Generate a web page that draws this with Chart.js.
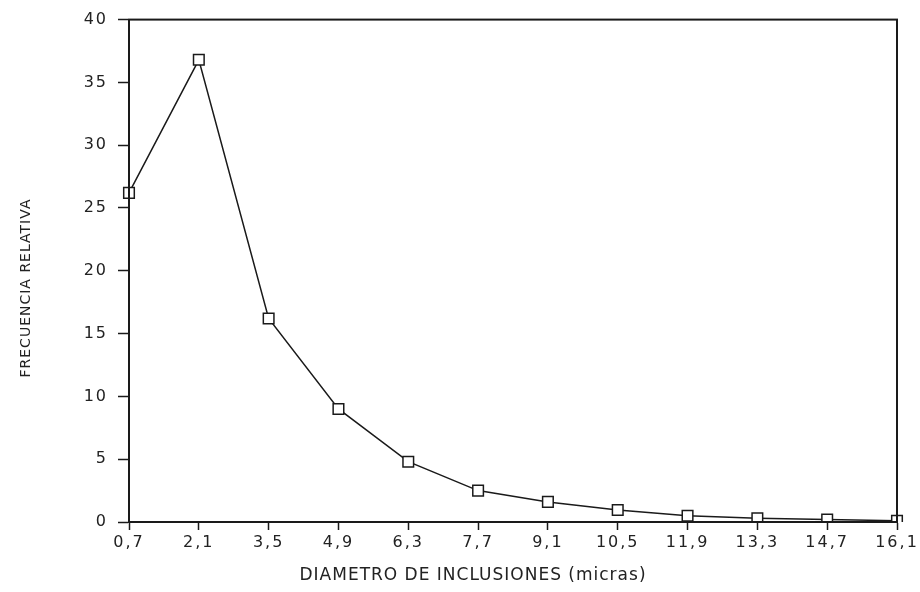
<!DOCTYPE html>
<html>
<head>
<meta charset="utf-8">
<script src="https://cdn.jsdelivr.net/npm/chart.js@4/dist/chart.umd.min.js"></script>
<style>
  html, body { margin: 0; padding: 0; background: #fff; }
  #wrap { width: 920px; height: 592px; position: relative; }
</style>
</head>
<body>
<div id="wrap"><canvas id="grafico"></canvas></div>
<script>
// datos
const diametros = ['0.7', '2.1', '3.5', '4.9', '6.3', '7.7', '9.1', '10.5', '11.9', '13.3', '14.7', '16.1'];
const frecuencias = [26.2, 36.8, 16.2, 9.0, 4.8, 2.5, 1.6, 0.95, 0.5, 0.3, 0.2, 0.1];
const ticksY = [0, 5, 10, 15, 20, 25, 30, 35, 40];

const tituloX = 'DIAMETRO DE INCLUSIONES (micras)';
const tituloY = 'FRECUENCIA RELATIVA';

const tinta = '#1a1a1a';

// marco completo + titulos de ejes
const marcoPlugin = {
  id: 'marco',
  beforeDraw(chart) {
    chart.ctx.letterSpacing = '2px';
  },
  afterDraw(chart) {
    const { ctx, chartArea: a } = chart;
    ctx.save();
    ctx.strokeStyle = tinta;
    ctx.lineWidth = 2;
    ctx.strokeRect(a.left, a.top, a.right - a.left, a.bottom - a.top);

    ctx.fillStyle = '#222';
    ctx.letterSpacing = '1px';
    ctx.textAlign = 'center';
    ctx.textBaseline = 'middle';
    ctx.font = '17px "DejaVu Sans"';
    ctx.fillText(tituloX, 473, 576);

    ctx.translate(26, 288);
    ctx.rotate(-Math.PI / 2);
    ctx.font = '14px "DejaVu Sans"';
    ctx.fillText(tituloY, 0, 0);
    ctx.restore();
  }
};

new Chart(document.getElementById('grafico'), {
  type: 'line',
  data: {
    labels: diametros.map(d => d.replace('.', ',')),
    datasets: [{
      data: frecuencias,
      borderColor: tinta,
      borderWidth: 1.5,
      tension: 0,
      pointStyle: 'rect',
      pointRadius: 7.5,
      pointBorderWidth: 1.5,
      pointBorderColor: tinta,
      pointBackgroundColor: '#fff'
    }]
  },
  options: {
    responsive: true,
    maintainAspectRatio: false,
    animation: false,
    layout: { padding: { top: 19, right: 23, left: 0, bottom: 0 } },
    plugins: { legend: { display: false }, tooltip: { enabled: false } },
    scales: {
      x: {
        offset: false,
        afterFit(scale) { scale.height = 70; },
        grid: { drawOnChartArea: false, drawTicks: true, tickLength: 8, tickColor: tinta, tickWidth: 1.5 },
        border: { display: true, color: tinta, width: 2 },
        ticks: {
          color: '#222', padding: 3, maxRotation: 0, autoSkip: false,
          font: { family: 'DejaVu Sans', size: 16 }
        }
      },
      y: {
        min: 0,
        max: 40,
        afterFit(scale) { scale.width = 129; },
        afterBuildTicks(scale) { scale.ticks = ticksY.map(v => ({ value: v })); },
        grid: { drawOnChartArea: false, drawTicks: true, tickLength: 11, tickColor: tinta, tickWidth: 1.5 },
        border: { display: true, color: tinta, width: 2 },
        ticks: {
          color: '#222', padding: 10,
          font: { family: 'DejaVu Sans', size: 16 }
        }
      }
    }
  },
  plugins: [marcoPlugin]
});
</script>
</body>
</html>
